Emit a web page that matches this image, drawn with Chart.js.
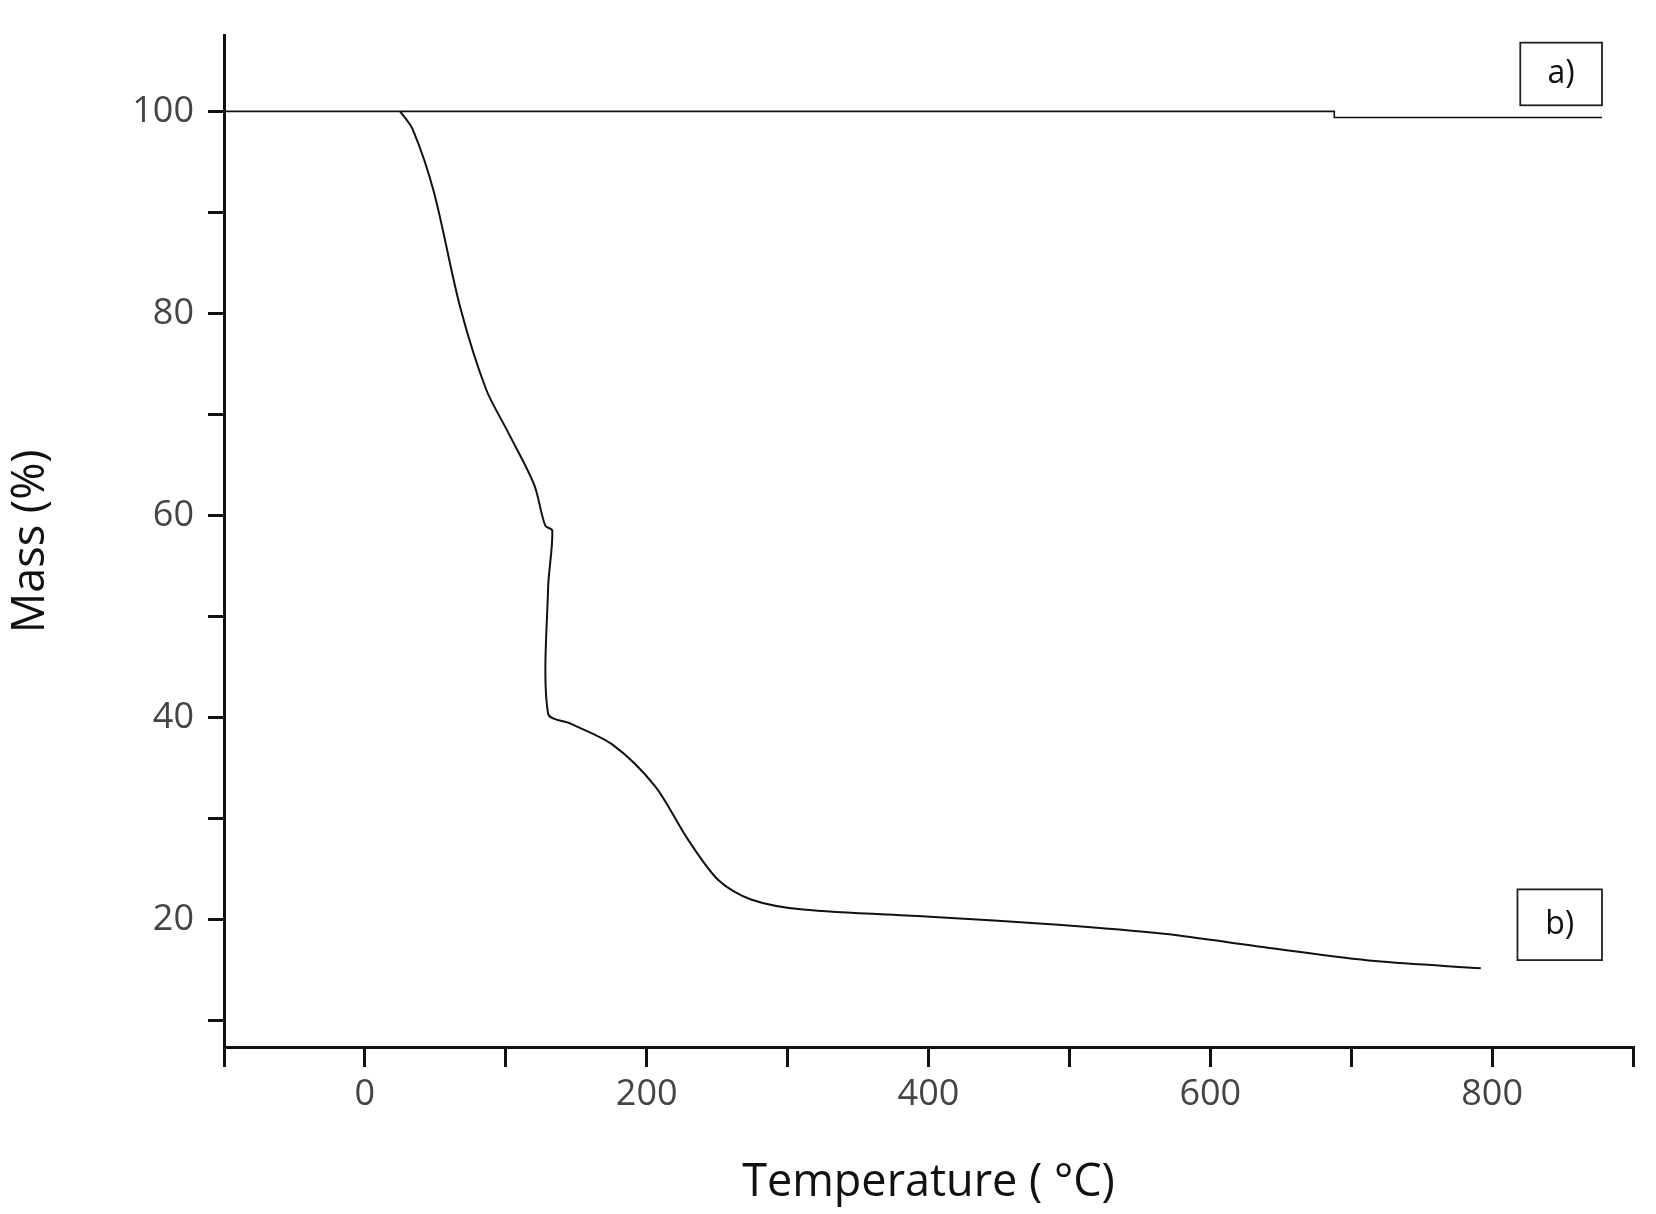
<!DOCTYPE html>
<html><head><meta charset="utf-8">
<script src="https://cdn.jsdelivr.net/npm/chart.js@4"></script>
<style>html,body{margin:0;background:#fff}#w{width:1656px;height:1214px}</style>
</head><body><div id="w"><canvas id="c"></canvas></div>
<script>
const curveAX = [-100, 688, 688, 878];
const curveAY = [100, 100, 99.4, 99.4];
const curveBX = [25,34,49,67.5,86,101,120,128,133,130,130,146,176,206,229,251,274,311,401,492,567,642,717,792];
const curveBY = [100,98.2,92,80.7,72.5,68.4,63.1,59,58.5,52.8,40.4,39.4,37.3,33.2,28,23.9,22,21,20.3,19.5,18.6,17.2,15.9,15.2];
const boxLabels = [{t:'a)', x:[820,878], y:[106.8,100.6]}, {t:'b)', x:[818,878], y:[23,16]}];
const toPts=(xs,ys)=>xs.map((x,i)=>({x,y:ys[i]}));
const boxes={id:'boxes',afterDatasetsDraw(ch){const c=ch.ctx,xs=ch.scales.x,ys=ch.scales.y;
 boxLabels.forEach(b=>{const x0=xs.getPixelForValue(b.x[0]),x1=xs.getPixelForValue(b.x[1]),y0=ys.getPixelForValue(b.y[0]),y1=ys.getPixelForValue(b.y[1]);
 c.save();c.strokeStyle='#222';c.lineWidth=1.8;c.strokeRect(x0,y0,x1-x0,y1-y0);c.fillStyle='#111';c.font='32px "Open Sans"';c.textAlign='center';c.textBaseline='middle';c.fillText(b.t,(x0+x1)/2,(y0+y1)/2);c.restore();});}};
new Chart(document.getElementById('c'),{type:'scatter',
data:{datasets:[
{data:toPts(curveAX,curveAY),showLine:true,borderColor:'#111',borderWidth:1.6,pointRadius:0,tension:0},
{data:toPts(curveBX,curveBY),showLine:true,borderColor:'#111',borderWidth:2,pointRadius:0,tension:0.3}]},
options:{responsive:true,maintainAspectRatio:false,animation:false,
layout:{padding:{left:0,top:21,right:23,bottom:0}},
plugins:{legend:{display:false},tooltip:{enabled:false}},
scales:{
x:{type:'linear',min:-100,max:900,afterFit(s){s.height=167;},
 afterBuildTicks(s){s.ticks=[-100,0,100,200,300,400,500,600,700,800,900].map(v=>({value:v}));},
 border:{color:'#111',width:3},grid:{display:true,drawOnChartArea:false,color:'#111',tickLength:20,lineWidth:3},
 ticks:{color:'#444',font:{size:36,family:'"Open Sans"'},padding:6,callback:v=>(v>=0&&v<=800&&v%200===0)?v:''},
 title:{display:true,text:'Temperature ( °C)',color:'#111',font:{size:45,family:'"Open Sans"'},padding:{top:0}}},
y:{min:7.4,max:107.5,afterFit(s){s.width=224;},
 afterBuildTicks(s){const t=[];for(let v=10;v<=100;v+=10)t.push({value:v});s.ticks=t;},
 border:{color:'#111',width:3},grid:{display:true,drawOnChartArea:false,color:'#111',tickLength:16,lineWidth:3},
 ticks:{color:'#444',font:{size:36,family:'"Open Sans"'},padding:14,callback:v=>(v>=20&&v%20===0)?v:''},
 title:{display:true,text:'Mass (%)',color:'#111',font:{size:45,family:'"Open Sans"'},padding:{bottom:40}}}}},
plugins:[boxes]});
</script></body></html>
